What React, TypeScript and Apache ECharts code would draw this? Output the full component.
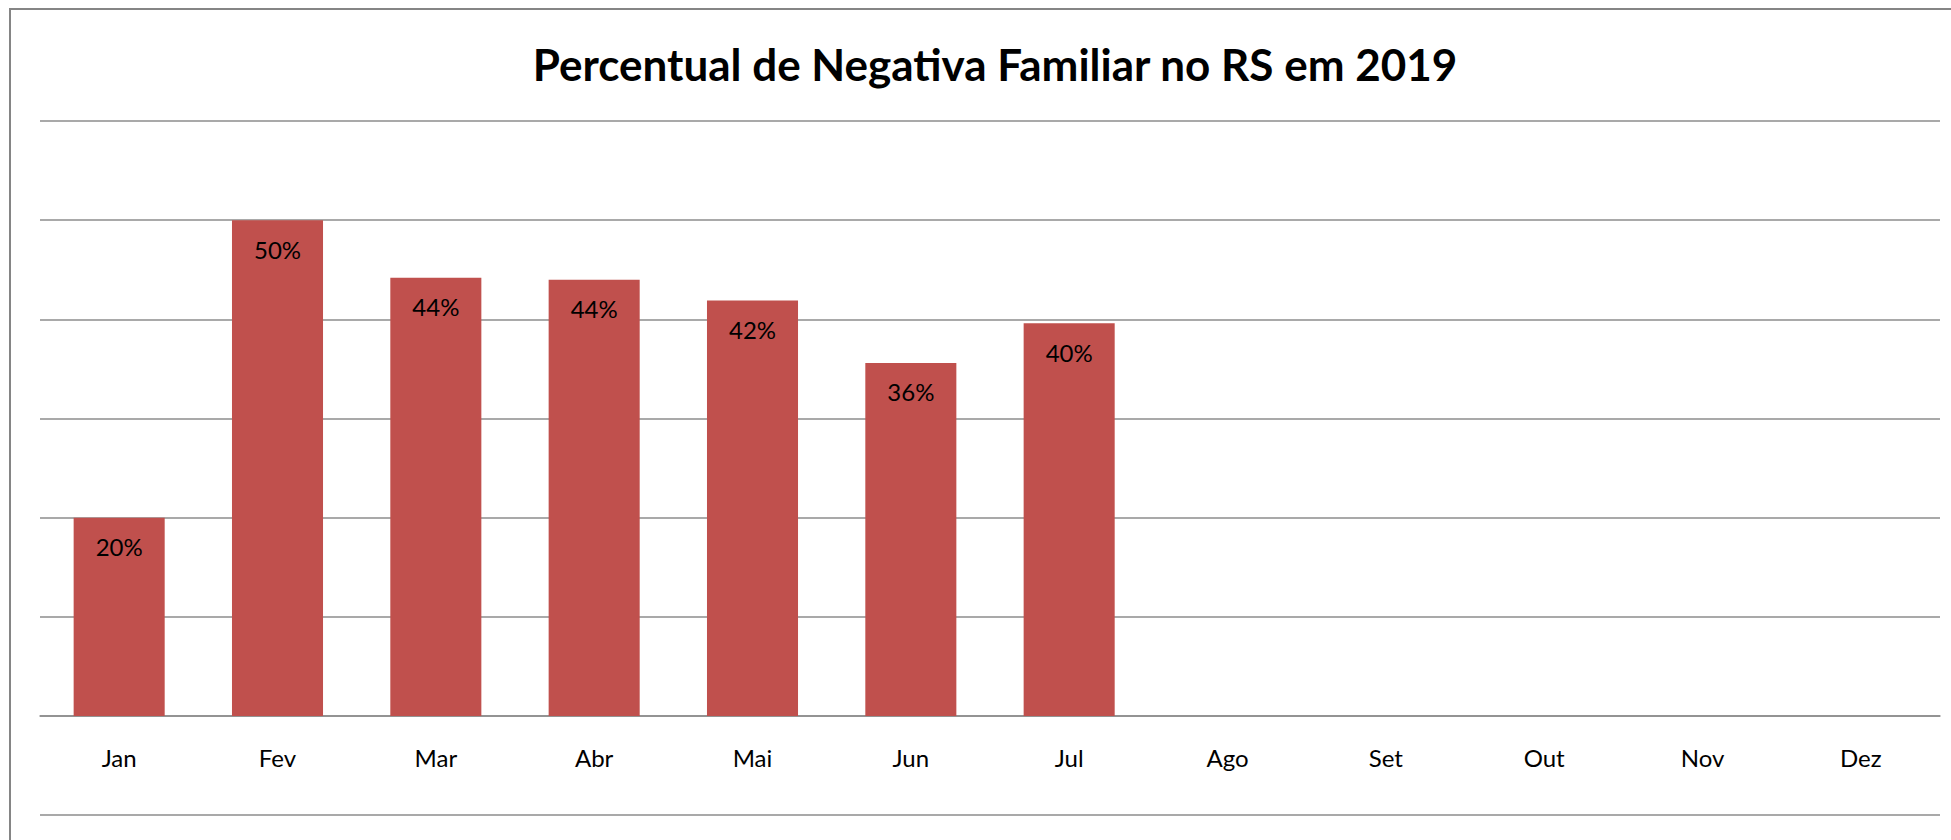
import React, { useEffect, useRef } from "react";
import * as echarts from "echarts";

const categories = ["Jan", "Fev", "Mar", "Abr", "Mai", "Jun", "Jul", "Ago", "Set", "Out", "Nov", "Dez"];
const percentValues: (number | null)[] = [0.2, 0.5, 0.442, 0.44, 0.419, 0.356, 0.396, null, null, null, null, null];
const chartTitle = "Percentual de Negativa Familiar no RS em 2019";

const FONT = "Lato, 'Noto Sans', sans-serif";
const GRID_COLOR = "#8c8c8c";

export default function App() {
  const ref = useRef<HTMLDivElement>(null);
  useEffect(() => {
    if (!ref.current) return;
    const chart = echarts.init(ref.current, null, { renderer: "svg" });
    chart.setOption({
      animation: false,
      backgroundColor: "#ffffff",
      title: {
        text: chartTitle,
        left: 990,
        top: 37,
        textAlign: "center",
        textStyle: {
          fontFamily: FONT,
          fontWeight: "bold",
          fontSize: 44,
          lineHeight: 44,
          color: "#000000",
        },
      },
      graphic: [
        {
          type: "rect",
          shape: { x: 10, y: 9, width: 2100, height: 1000 },
          style: { fill: "none", stroke: "#858585", lineWidth: 2 },
          silent: true,
        },
        {
          type: "line",
          shape: { x1: 40, y1: 815, x2: 1940, y2: 815 },
          style: { stroke: GRID_COLOR, lineWidth: 1.5 },
          silent: true,
        },
      ],
      grid: {
        left: 40,
        right: 11,
        top: 121,
        bottom: 124,
        containLabel: false,
        outerBoundsMode: "none",
      },
      xAxis: {
        type: "category",
        data: categories,
        axisLine: { show: true, lineStyle: { color: GRID_COLOR, width: 1.5 } },
        axisTick: { show: false },
        axisLabel: {
          fontFamily: FONT,
          fontSize: 24,
          lineHeight: 24,
          color: "#000000",
          margin: 29,
          interval: 0,
        },
      },
      yAxis: {
        type: "value",
        min: 0,
        max: 0.6,
        interval: 0.1,
        axisLine: { show: false },
        axisTick: { show: false },
        axisLabel: { show: false },
        splitLine: { show: true, lineStyle: { color: GRID_COLOR, width: 1.5 } },
      },
      series: [
        {
          type: "bar",
          data: percentValues,
          barWidth: "57.5%",
          itemStyle: { color: "#C0504D" },
          label: {
            show: true,
            position: "insideTop",
            distance: 17,
            fontFamily: FONT,
            fontSize: 24,
            lineHeight: 24,
            color: "#000000",
            formatter: (p: any) => (p.value == null ? "" : Math.round(p.value * 100) + "%"),
          },
        },
      ],
    });
    return () => chart.dispose();
  }, []);
  return (
    <div
      ref={ref}
      style={{ position: "absolute", left: 0, top: 0, width: 1951, height: 840 }}
    />
  );
}
